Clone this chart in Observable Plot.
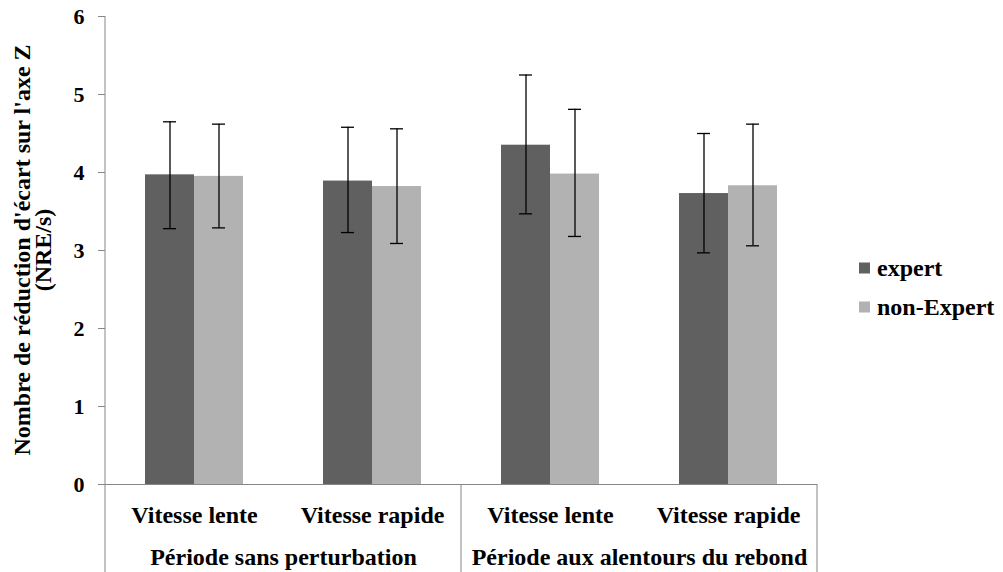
<!DOCTYPE html>
<html>
<head>
<meta charset="utf-8">
<script src="https://cdn.jsdelivr.net/npm/d3@7"></script>
<script src="https://cdn.jsdelivr.net/npm/@observablehq/plot@0.6"></script>
<style>
  html, body { margin: 0; padding: 0; background: #fff; }
  #chart { position: relative; width: 1003px; height: 572px; }
</style>
</head>
<body>
<div id="chart"></div>
<script>
const categories = ["Vitesse lente", "Vitesse rapide", "Vitesse lente", "Vitesse rapide"];
const periods = ["Période sans perturbation", "Période sans perturbation", "Période aux alentours du rebond", "Période aux alentours du rebond"];
const series = ["expert", "non-Expert"];
const expertMean = [3.97, 3.89, 4.35, 3.73];
const expertLow = [3.28, 3.23, 3.47, 2.97];
const expertHigh = [4.65, 4.58, 5.25, 4.50];
const nonExpertMean = [3.95, 3.82, 3.98, 3.83];
const nonExpertLow = [3.29, 3.09, 3.18, 3.06];
const nonExpertHigh = [4.62, 4.56, 4.81, 4.62];
const yTicks = [0, 1, 2, 3, 4, 5, 6];
const yTitle = ["Nombre de réduction d'écart sur l'axe Z", "(NRE/s)"];
const colors = ["#606060", "#b2b2b2"];

const rows = [];
categories.forEach((c, i) => {
  rows.push({i, series: series[0], value: expertMean[i], low: expertLow[i], high: expertHigh[i]});
  rows.push({i, series: series[1], value: nonExpertMean[i], low: nonExpertLow[i], high: nonExpertHigh[i]});
});
const groupLabels = [];
periods.forEach((p, i) => { if (i === 0 || periods[i - 1] !== p) groupLabels.push({i, label: p}); });

const FONT = "'Liberation Serif', 'Times New Roman', serif";
const W = 1003, H = 572;

const plot = Plot.plot({
  width: W,
  height: H,
  marginLeft: 104,
  marginRight: 185,
  marginTop: 16,
  marginBottom: 88,
  style: {fontFamily: FONT, fontSize: "24px", fontWeight: "bold", color: "#000", background: "#fff"},
  fx: {domain: categories.map((_, i) => i), padding: 0, label: null},
  x: {domain: series, paddingInner: 0, paddingOuter: 0.785, axis: null},
  y: {domain: [0, 6], label: null},
  color: {domain: series, range: colors},
  marks: [
    Plot.axisY({ticks: yTicks, tickFormat: d3.format("d"), tickSize: 7, tickPadding: 14, stroke: "#868686", fill: "#000", fontSize: 22, fontWeight: "bold", label: null}),
    Plot.barY(rows, {fx: "i", x: "series", y: "value", fill: "series"}),
    Plot.ruleY([0], {stroke: "#868686"}),
    Plot.ruleX(rows, {fx: "i", x: "series", y1: "low", y2: "high", stroke: "#000", strokeWidth: 1.3}),
    Plot.tickY(rows, {fx: "i", x: "series", y: "low", stroke: "#000", strokeWidth: 1.3, insetLeft: 18, insetRight: 18}),
    Plot.tickY(rows, {fx: "i", x: "series", y: "high", stroke: "#000", strokeWidth: 1.3, insetLeft: 18, insetRight: 18}),
    Plot.axisFx({anchor: "bottom", tickSize: 0, tickPadding: 21, label: null, fontSize: 24, fontWeight: "bold", tickFormat: i => categories[i]}),
    Plot.text(groupLabels, {fx: "i", text: "label", frameAnchor: "bottom-right", textAnchor: "middle", lineAnchor: "middle", dy: 73, fontSize: 24, fontWeight: "bold", fill: "#000"})
  ]
});

document.getElementById("chart").appendChild(plot);

const svg = d3.select(plot);
const fx = plot.scale("fx");
const y = plot.scale("y");
const y0 = y.apply(0);
// y axis line extending to bottom
svg.append("line")
  .attr("x1", fx.apply(0)).attr("x2", fx.apply(0))
  .attr("y1", y.apply(6)).attr("y2", H)
  .attr("stroke", "#868686");
// group separators
const bounds = [];
periods.forEach((p, i) => { if (i > 0 && periods[i - 1] !== p) bounds.push(fx.apply(i)); });
bounds.push(fx.apply(categories.length - 1) + fx.bandwidth);
bounds.forEach(bx => {
  svg.append("line").attr("x1", bx).attr("x2", bx).attr("y1", y0).attr("y2", H).attr("stroke", "#868686");
});

// y title
const t = svg.append("text")
  .attr("transform", `translate(22,${(y.apply(6) + y0) / 2}) rotate(-90)`)
  .attr("text-anchor", "middle")
  .attr("font-family", FONT).attr("font-weight", "bold").attr("font-size", 24).attr("fill", "#000");
yTitle.forEach((line, k) => {
  t.append("tspan").attr("x", 0).attr("dy", k === 0 ? "0.35em" : "0.85em").text(line);
});

// legend
const color = plot.scale("color");
const lg = svg.append("g").attr("font-family", FONT).attr("font-weight", "bold").attr("font-size", 24).attr("text-anchor", "start");
color.domain.forEach((d, k) => {
  const cy = 268 + k * 39;
  lg.append("rect").attr("x", 859).attr("y", cy - 5.5).attr("width", 11).attr("height", 11).attr("fill", color.range[k]);
  lg.append("text").attr("x", 877).attr("y", cy).attr("dy", "0.35em").attr("fill", "#000").text(d);
});
</script>
</body>
</html>
